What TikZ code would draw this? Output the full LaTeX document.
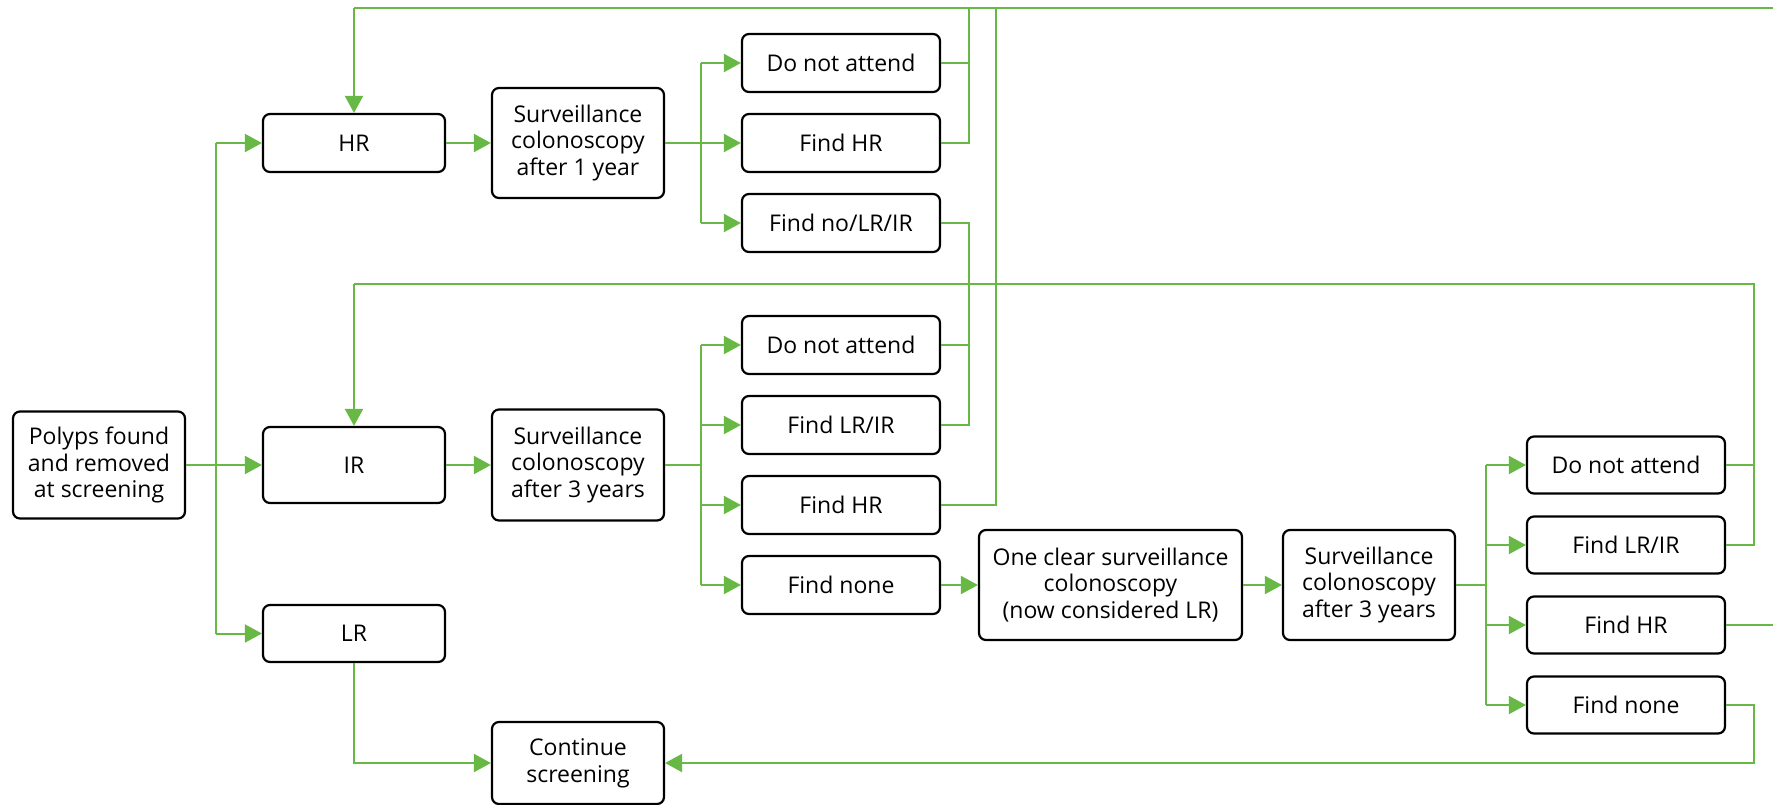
\documentclass[tikz,border=0pt]{standalone}
\usepackage{fontspec}
\setmainfont{Open Sans}
\usetikzlibrary{arrows.meta}
\definecolor{grn}{RGB}{104,184,70}
\tikzset{
  box/.style={draw=black, line width=1.1pt, rounded corners=3.5pt, align=center,
    font=\fontsize{11.5}{13.4}\selectfont, inner sep=0pt, fill=white},
  ln/.style={draw=grn, line width=1pt, line join=miter},
  arr/.style={ln, -{Triangle[length=8.5pt,width=9pt]}},
}
\begin{document}
\begin{tikzpicture}[x=0.5pt,y=-0.5pt]
\useasboundingbox (0,0) rectangle (1773,804);
% left column
\node[box, minimum width=86pt, minimum height=53.5pt] (polyps) at (99,465) {Polyps found\\and removed\\at screening};
\node[box, minimum width=91pt, minimum height=29pt] (HR) at (354,143) {HR};
\node[box, minimum width=91pt, minimum height=38pt] (IR) at (354,465) {IR};
\node[box, minimum width=91pt, minimum height=28.5pt] (LR) at (354,633.5) {LR};
\node[box, minimum width=86pt, minimum height=55pt] (S1) at (578,143) {Surveillance\\colonoscopy\\after 1 year};
\node[box, minimum width=86pt, minimum height=55.5pt] (S3) at (578,465) {Surveillance\\colonoscopy\\after 3 years};
\node[box, minimum width=86pt, minimum height=41pt] (cont) at (578,763) {Continue\\screening};
% top group
\node[box, minimum width=99pt, minimum height=29pt] (dna1) at (841,63) {Do not attend};
\node[box, minimum width=99pt, minimum height=29pt] (fhr1) at (841,143) {Find HR};
\node[box, minimum width=99pt, minimum height=29pt] (fno) at (841,223) {Find no/LR/IR};
% middle group
\node[box, minimum width=99pt, minimum height=29pt] (dna2) at (841,345) {Do not attend};
\node[box, minimum width=99pt, minimum height=29pt] (flr2) at (841,425) {Find LR/IR};
\node[box, minimum width=99pt, minimum height=29pt] (fhr2) at (841,505) {Find HR};
\node[box, minimum width=99pt, minimum height=29pt] (fn2) at (841,585) {Find none};
\node[box, minimum width=131.5pt, minimum height=55pt] (clear) at (1110.5,585) {One clear surveillance\\colonoscopy\\(now considered LR)};
\node[box, minimum width=86pt, minimum height=55pt] (S3r) at (1369,585) {Surveillance\\colonoscopy\\after 3 years};
% right group
\node[box, minimum width=99pt, minimum height=28.5pt] (dna3) at (1626,465) {Do not attend};
\node[box, minimum width=99pt, minimum height=28.5pt] (flr3) at (1626,545) {Find LR/IR};
\node[box, minimum width=99pt, minimum height=28.5pt] (fhr3) at (1626,625) {Find HR};
\node[box, minimum width=99pt, minimum height=28.5pt] (fn3) at (1626,705) {Find none};

% junction coordinates
\coordinate (b0) at (216,465);
\coordinate (b1) at (701,143);
\coordinate (b2) at (701,465);
\coordinate (b3) at (1486,585);
\coordinate (topy) at (354,8);
\coordinate (iry) at (354,284);
\coordinate (v1) at (969,8);
\coordinate (v2) at (996,8);
\coordinate (vr) at (1754,284);
\coordinate (edgeTop) at (1773,8);
\coordinate (edgeHR) at (1773,625);

% from polyps
\draw[ln] (polyps.east) -- (b0);
\draw[ln] (b0 |- HR.west) -- (b0 |- LR.west);
\draw[arr] (b0 |- HR.west) -- (HR.west);
\draw[arr] (b0) -- (IR.west);
\draw[arr] (b0 |- LR.west) -- (LR.west);
\draw[arr] (HR) -- (S1);
\draw[arr] (IR) -- (S3);

% top branch
\draw[ln] (S1.east) -- (b1);
\draw[ln] (b1 |- dna1.west) -- (b1 |- fno.west);
\draw[arr] (b1 |- dna1.west) -- (dna1.west);
\draw[arr] (b1) -- (fhr1.west);
\draw[arr] (b1 |- fno.west) -- (fno.west);

% middle branch
\draw[ln] (S3.east) -- (b2);
\draw[ln] (b2 |- dna2.west) -- (b2 |- fn2.west);
\draw[arr] (b2 |- dna2.west) -- (dna2.west);
\draw[arr] (b2 |- flr2.west) -- (flr2.west);
\draw[arr] (b2 |- fhr2.west) -- (fhr2.west);
\draw[arr] (b2 |- fn2.west) -- (fn2.west);
\draw[arr] (fn2) -- (clear);
\draw[arr] (clear) -- (S3r);

% right branch
\draw[ln] (S3r.east) -- (b3);
\draw[ln] (b3 |- dna3.west) -- (b3 |- fn3.west);
\draw[arr] (b3 |- dna3.west) -- (dna3.west);
\draw[arr] (b3 |- flr3.west) -- (flr3.west);
\draw[arr] (b3 |- fhr3.west) -- (fhr3.west);
\draw[arr] (b3 |- fn3.west) -- (fn3.west);

% loop back to HR
\draw[ln] (dna1.east) -- (v1 |- dna1.east);
\draw[ln] (fhr1.east) -- (v1 |- fhr1.east) -- (v1);
\draw[ln] (fhr2.east) -- (v2 |- fhr2.east) -- (v2);
\draw[ln] (edgeTop) -- (topy);
\draw[arr] (topy) -- (HR.north);
\draw[ln] (fhr3.east) -- (edgeHR);

% loop back to IR
\draw[ln] (fno.east) -- (v1 |- fno.east) -- (v1 |- flr2.east) -- (flr2.east);
\draw[ln] (dna2.east) -- (v1 |- dna2.east);
\draw[ln] (flr3.east) -- (vr |- flr3.east) -- (vr) -- (iry);
\draw[ln] (dna3.east) -- (vr |- dna3.east);
\draw[arr] (iry) -- (IR.north);

% to continue screening
\draw[arr] (LR.south) |- (cont.west);
\draw[arr] (fn3.east) -- (vr |- fn3.east) -- (vr |- cont.east) -- (cont.east);
\end{tikzpicture}
\end{document}
